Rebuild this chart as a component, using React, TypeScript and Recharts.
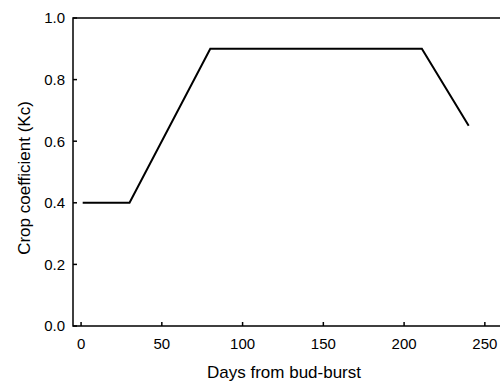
import React from "react";
import { LineChart, Line, XAxis, YAxis, Label, ReferenceArea } from "recharts";

const days = [1, 30, 80, 211, 240];
const kcValues = [0.4, 0.4, 0.9, 0.9, 0.65];
const xTicks = [0, 50, 100, 150, 200, 250];
const yTicks = [0, 0.2, 0.4, 0.6, 0.8, 1.0];
const xLabel = "Days from bud-burst";
const yLabel = "Crop coefficient (Kc)";

const data = days.map((d, i) => ({ day: d, kc: kcValues[i] }));

const FONT = "'Liberation Sans', Arial, sans-serif";
const TICK_LEN = 4;
const BOTTOM_GAP = 12;
const LEFT_GAP = 8;
const SW = 1.5;

const BottomTick = (p: any) => (
  <g>
    <path d={`M${p.x},${p.y - BOTTOM_GAP}v${-TICK_LEN}`} stroke="#000" strokeWidth={SW} fill="none" />
    <text x={p.x} y={p.y} dy="0.71em" textAnchor="middle" fontSize={15} fontFamily={FONT} fill="#000">
      {p.payload.value}
    </text>
  </g>
);

const LeftTick = (p: any) => (
  <g>
    <path d={`M${p.x + LEFT_GAP},${p.y}h${TICK_LEN}`} stroke="#000" strokeWidth={SW} fill="none" />
    <text x={p.x} y={p.y} dy="0.355em" textAnchor="end" fontSize={15} fontFamily={FONT} fill="#000">
      {Number(p.payload.value).toFixed(1)}
    </text>
  </g>
);

const TopTick = (p: any) => (
  <path d={`M${p.x},${p.y}v${TICK_LEN}`} stroke="#000" strokeWidth={SW} fill="none" />
);

const RightTick = (p: any) => (
  <path d={`M${p.x},${p.y}h${-TICK_LEN}`} stroke="#000" strokeWidth={SW} fill="none" />
);

export default function App() {
  return (
    <div style={{ position: "absolute", left: 0, top: 0, width: 500, height: 381, overflow: "hidden", background: "#fff" }}>
      <LineChart width={502} height={381} data={data} margin={{ top: 18, right: 1, bottom: 0, left: 0 }}>
        <XAxis
          xAxisId="b"
          dataKey="day"
          type="number"
          domain={[-5, 260]}
          ticks={xTicks}
          allowDataOverflow
          height={55}
          axisLine={false}
          tickLine={false}
          tickSize={0}
          tickMargin={BOTTOM_GAP}
          tick={BottomTick}
        >
          <Label
            content={({ viewBox }: any) => (
              <text
                x={viewBox.x + viewBox.width / 2 - 3}
                y={viewBox.y + viewBox.height - 3}
                textAnchor="middle"
                fontSize={17}
                fontFamily={FONT}
                fill="#000"
              >
                {xLabel}
              </text>
            )}
          />
        </XAxis>
        <XAxis
          xAxisId="t"
          dataKey="day"
          type="number"
          orientation="top"
          domain={[-5, 260]}
          ticks={xTicks}
          allowDataOverflow
          height={0}
          axisLine={false}
          tickLine={false}
          tickSize={0}
          tickMargin={0}
          tick={TopTick}
        />
        <YAxis
          yAxisId="l"
          type="number"
          domain={[0, 1]}
          ticks={yTicks}
          width={73}
          axisLine={false}
          tickLine={false}
          tickSize={0}
          tickMargin={LEFT_GAP}
          tick={LeftTick}
        >
          <Label
            content={({ viewBox }: any) => {
              const cx = 24;
              const cy = viewBox.y + viewBox.height / 2 + 6;
              return (
                <text
                  x={cx}
                  y={cy}
                  transform={`rotate(-90 ${cx} ${cy})`}
                  textAnchor="middle"
                  dominantBaseline="central"
                  fontSize={17}
                  fontFamily={FONT}
                  fill="#000"
                >
                  {yLabel}
                </text>
              );
            }}
          />
        </YAxis>
        <YAxis
          yAxisId="r"
          orientation="right"
          type="number"
          domain={[0, 1]}
          ticks={yTicks}
          width={0}
          axisLine={false}
          tickLine={false}
          tickSize={0}
          tickMargin={0}
          tick={RightTick}
        />
        <ReferenceArea
          xAxisId="b"
          yAxisId="l"
          x1={-5}
          x2={260}
          y1={0}
          y2={1}
          fill="none"
          fillOpacity={0}
          stroke="#000"
          strokeWidth={SW}
          strokeOpacity={1}
          ifOverflow="visible"
        />
        <Line
          xAxisId="b"
          yAxisId="l"
          dataKey="kc"
          type="linear"
          stroke="#000"
          strokeWidth={2}
          dot={false}
          activeDot={false}
          isAnimationActive={false}
        />
      </LineChart>
    </div>
  );
}
